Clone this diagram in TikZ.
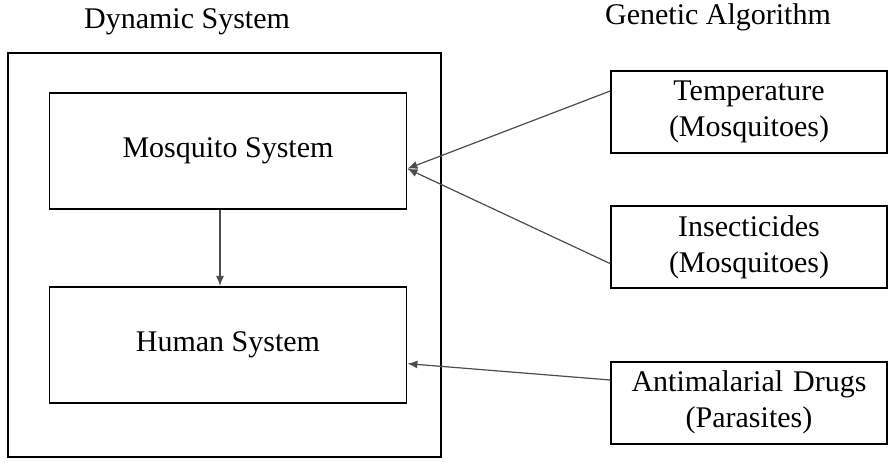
\documentclass[tikz,border=0pt]{standalone}
\usepackage{fontspec}
\setmainfont{Liberation Serif}
\usetikzlibrary{positioning,calc,arrows.meta}
\tikzstyle{sysbox} = [rectangle, draw, line width=0.9pt, minimum width=178.5pt, minimum height=58pt, inner sep=0pt, font=\fontsize{15}{18}\selectfont]
\tikzstyle{gabox} = [rectangle, draw, line width=0.9pt, minimum width=138pt, minimum height=41pt, inner sep=0pt, text width=136pt, align=center, font=\fontsize{15}{18}\selectfont]
\tikzstyle{heading} = [font=\fontsize{15}{18}\selectfont]
\tikzstyle{feed} = [->, draw=black!70, line width=0.6pt]

\begin{document}
\begin{tikzpicture}[x=0.5pt, y=-0.5pt, node distance = 38pt and 5mm, >={Latex[length=5pt,width=4pt]}]
        \useasboundingbox (0,0) rectangle (891,462);

        % dynamic system side
        \node [rectangle, draw, line width=0.9pt, minimum width=216.5pt, minimum height=202pt] (dynsys) at (224.5,255) {};
        \node [heading] (dyntitle) at (187,22) {Dynamic System};
        \node [sysbox] (mosquito) at (228,151) {Mosquito System};
        \node [sysbox, below = of mosquito] (human) {Human System};
        \draw [feed] ([xshift=-4pt]mosquito.south) -- ([xshift=-4pt]mosquito.south |- human.north);

        % genetic algorithm side
        \node [heading] (gatitle) at (718,17) {Genetic Algorithm};
        \node [gabox] (temperature) at (749,112) {Temperature\\(Mosquitoes)};
        \node [gabox, below = 25.5pt of temperature] (insecticides) {Insecticides\\(Mosquitoes)};
        \node [gabox, below = 36pt of insecticides] (drugs) {Antimalarial Drugs\\(Parasites)};

        \coordinate (mosquitoin) at ($(mosquito.north east)!0.65!(mosquito.south east)$);
        \coordinate (humanin) at ($(human.north east)!0.66!(human.south east)$);
        \draw [feed] ($(temperature.north west)!0.25!(temperature.south west)$) -- (mosquitoin);
        \draw [feed] ($(insecticides.north west)!0.7!(insecticides.south west)$) -- (mosquitoin);
        \draw [feed] ($(drugs.north west)!0.23!(drugs.south west)$) -- (humanin);
\end{tikzpicture}
\end{document}
